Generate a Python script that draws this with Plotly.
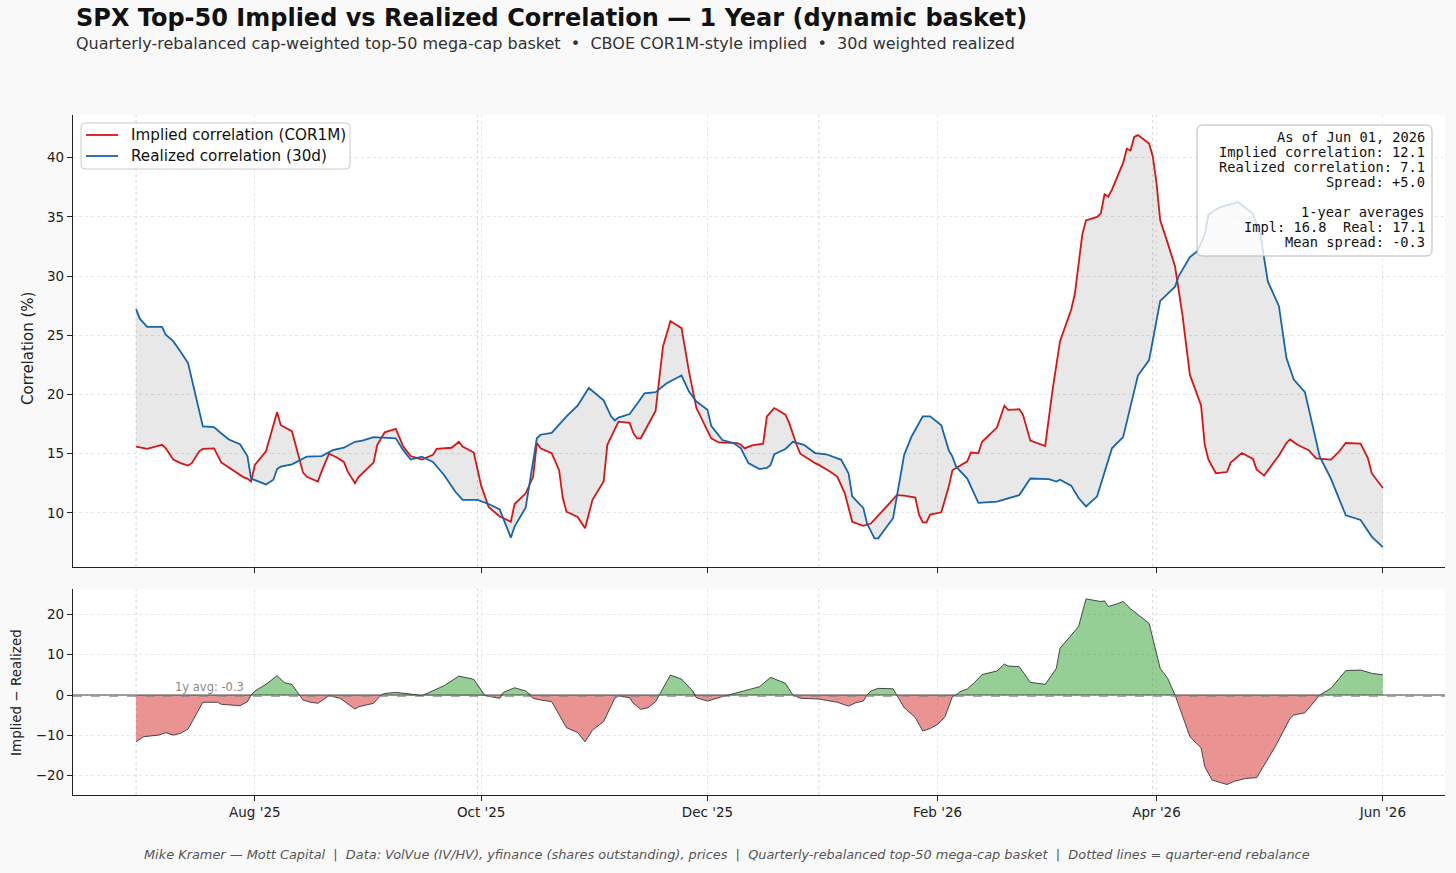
import numpy as np
import plotly.graph_objects as go

# ---------------- data ----------------
real_dates = [
    "2025-06-30", "2025-07-01", "2025-07-03", "2025-07-07", "2025-07-08", "2025-07-10", "2025-07-12",
    "2025-07-14", "2025-07-18", "2025-07-21", "2025-07-23", "2025-07-25", "2025-07-28", "2025-07-30",
    "2025-07-31", "2025-08-02", "2025-08-04", "2025-08-06", "2025-08-07", "2025-08-08", "2025-08-11",
    "2025-08-15", "2025-08-19", "2025-08-22", "2025-08-25", "2025-08-28", "2025-08-30", "2025-09-02",
    "2025-09-08", "2025-09-10", "2025-09-12", "2025-09-15", "2025-09-18", "2025-09-21", "2025-09-24",
    "2025-09-26", "2025-09-30", "2025-10-03", "2025-10-06", "2025-10-09", "2025-10-10", "2025-10-13",
    "2025-10-16", "2025-10-17", "2025-10-20", "2025-10-24", "2025-10-27", "2025-10-30", "2025-11-03",
    "2025-11-05", "2025-11-06", "2025-11-07", "2025-11-10", "2025-11-12", "2025-11-14", "2025-11-17",
    "2025-11-20", "2025-11-24", "2025-11-26", "2025-11-28", "2025-12-01", "2025-12-02", "2025-12-05",
    "2025-12-08", "2025-12-10", "2025-12-12", "2025-12-15", "2025-12-17", "2025-12-18", "2025-12-19",
    "2025-12-22", "2025-12-24", "2025-12-27", "2025-12-30", "2026-01-02", "2026-01-05", "2026-01-06",
    "2026-01-08", "2026-01-09", "2026-01-12", "2026-01-13", "2026-01-15", "2026-01-16", "2026-01-20",
    "2026-01-23", "2026-01-25", "2026-01-28", "2026-01-30", "2026-02-02", "2026-02-04", "2026-02-05",
    "2026-02-06", "2026-02-09", "2026-02-12", "2026-02-17", "2026-02-23", "2026-02-26", "2026-03-03",
    "2026-03-05", "2026-03-06", "2026-03-09", "2026-03-11", "2026-03-13", "2026-03-16", "2026-03-20",
    "2026-03-23", "2026-03-27", "2026-03-30", "2026-04-02", "2026-04-06", "2026-04-07", "2026-04-10",
    "2026-04-12", "2026-04-14", "2026-04-15", "2026-04-18", "2026-04-23", "2026-04-27", "2026-04-29",
    "2026-05-01", "2026-05-04", "2026-05-06", "2026-05-08", "2026-05-11", "2026-05-15", "2026-05-18",
    "2026-05-22", "2026-05-26", "2026-05-29", "2026-06-01",
]
realized = [
    27.2, 26.4, 25.7, 25.7, 25.05, 24.5, 23.6,
    22.65, 17.3, 17.25, 16.7, 16.2, 15.8, 14.8,
    12.9, 12.65, 12.4, 12.8, 13.7, 13.9, 14.1,
    14.75, 14.8, 15.3, 15.5, 16.0, 16.1, 16.4,
    16.3, 15.3, 14.5, 14.75, 14.3, 13.2, 11.8,
    11.1, 11.1, 10.75, 10.3, 7.9, 8.85, 10.45,
    16.3, 16.6, 16.75, 18.15, 19.05, 20.55, 19.5,
    18.15, 17.8, 18.05, 18.35, 19.2, 20.1, 20.2,
    20.95, 21.6, 20.25, 19.4, 18.7, 17.35, 16.15,
    15.9, 15.45, 14.2, 13.7, 13.8, 14.05, 14.95,
    15.4, 16.0, 15.75, 15.05, 14.95, 14.6, 14.5,
    13.35, 11.4, 10.4, 9.1, 7.85, 7.85, 9.55,
    14.9, 16.45, 18.15, 18.15, 17.4, 15.3, 14.75,
    13.9, 12.9, 10.85, 10.95, 11.5, 12.9, 12.85,
    12.65, 12.8, 12.3, 11.25, 10.55, 11.4, 15.45,
    16.4, 21.6, 22.9, 27.9, 29.1, 30.0, 31.6,
    32.1, 33.5, 35.2, 35.8, 36.25, 35.25, 33.5,
    29.55, 27.45, 23.1, 21.25, 20.2, 14.75, 12.9,
    9.8, 9.4, 8.0, 7.1,
]

impl_dates = [
    "2025-06-30", "2025-07-03", "2025-07-07", "2025-07-08", "2025-07-10", "2025-07-12", "2025-07-14",
    "2025-07-15", "2025-07-17", "2025-07-18", "2025-07-21", "2025-07-23", "2025-07-24", "2025-07-26",
    "2025-07-29", "2025-07-30", "2025-07-31", "2025-08-01", "2025-08-04", "2025-08-07", "2025-08-08",
    "2025-08-11", "2025-08-14", "2025-08-15", "2025-08-18", "2025-08-19", "2025-08-21", "2025-08-23",
    "2025-08-25", "2025-08-26", "2025-08-28", "2025-08-29", "2025-09-02", "2025-09-03", "2025-09-05",
    "2025-09-08", "2025-09-10", "2025-09-12", "2025-09-15", "2025-09-18", "2025-09-19", "2025-09-23",
    "2025-09-25", "2025-09-26", "2025-09-29", "2025-10-01", "2025-10-03", "2025-10-06", "2025-10-09",
    "2025-10-10", "2025-10-13", "2025-10-15", "2025-10-16", "2025-10-17", "2025-10-20", "2025-10-22",
    "2025-10-23", "2025-10-24", "2025-10-27", "2025-10-29", "2025-10-31", "2025-11-03", "2025-11-04",
    "2025-11-07", "2025-11-10", "2025-11-11", "2025-11-12", "2025-11-13", "2025-11-17", "2025-11-19",
    "2025-11-21", "2025-11-24", "2025-11-26", "2025-11-28", "2025-12-02", "2025-12-04", "2025-12-09",
    "2025-12-10", "2025-12-11", "2025-12-13", "2025-12-16", "2025-12-17", "2025-12-19", "2025-12-22",
    "2025-12-23", "2025-12-25", "2025-12-26", "2025-12-30", "2025-12-31", "2026-01-03", "2026-01-05",
    "2026-01-07", "2026-01-09", "2026-01-12", "2026-01-14", "2026-01-18", "2026-01-21", "2026-01-23",
    "2026-01-26", "2026-01-27", "2026-01-28", "2026-01-29", "2026-01-30", "2026-02-02", "2026-02-03",
    "2026-02-04", "2026-02-05", "2026-02-09", "2026-02-10", "2026-02-12", "2026-02-13", "2026-02-17",
    "2026-02-19", "2026-02-20", "2026-02-23", "2026-02-24", "2026-02-26", "2026-03-02", "2026-03-04",
    "2026-03-06", "2026-03-09", "2026-03-10", "2026-03-12", "2026-03-13", "2026-03-16", "2026-03-17",
    "2026-03-18", "2026-03-19", "2026-03-20", "2026-03-23", "2026-03-24", "2026-03-25", "2026-03-26",
    "2026-03-27", "2026-03-30", "2026-03-31", "2026-04-01", "2026-04-02", "2026-04-04", "2026-04-06",
    "2026-04-08", "2026-04-10", "2026-04-13", "2026-04-14", "2026-04-15", "2026-04-17", "2026-04-20",
    "2026-04-21", "2026-04-24", "2026-04-27", "2026-04-28", "2026-04-30", "2026-05-04", "2026-05-06",
    "2026-05-07", "2026-05-09", "2026-05-12", "2026-05-14", "2026-05-18", "2026-05-20", "2026-05-22",
    "2026-05-26", "2026-05-28", "2026-05-29", "2026-06-01",
]
implied = [
    15.6, 15.4, 15.75, 15.45, 14.5, 14.2, 14.0,
    14.2, 15.2, 15.4, 15.45, 14.25, 14.05, 13.6,
    13.0, 12.9, 12.65, 14.05, 15.2, 18.5, 17.4,
    16.9, 13.4, 13.05, 12.65, 13.5, 15.0, 14.7,
    14.3, 13.5, 12.5, 13.05, 14.25, 15.75, 16.8,
    17.1, 15.6, 14.8, 14.5, 14.9, 15.4, 15.5,
    16.0, 15.6, 15.1, 12.3, 10.5, 9.7, 9.25,
    10.75, 11.65, 13.05, 15.9, 15.45, 15.05, 13.6,
    11.25, 10.1, 9.65, 8.7, 11.1, 12.65, 15.75,
    17.7, 17.6, 16.75, 16.3, 16.3, 18.6, 24.05,
    26.2, 25.6, 21.95, 18.85, 16.3, 15.95, 15.9,
    15.75, 15.45, 15.7, 15.85, 18.15, 18.85, 18.3,
    17.6, 15.75, 15.0, 14.2, 14.05, 13.5, 13.05,
    11.65, 9.25, 8.9, 9.1, 10.45, 11.5, 11.45,
    11.3, 9.85, 9.2, 9.2, 9.85, 10.05, 11.1,
    12.2, 13.6, 14.35, 15.1, 15.05, 16.0, 17.2,
    19.05, 18.7, 18.75, 18.3, 16.1, 15.65, 20.4,
    24.5, 27.15, 28.5, 33.5, 34.7, 35.0, 35.3,
    36.9, 36.7, 37.3, 39.55, 40.75, 40.6, 41.75,
    41.9, 41.2, 40.1, 37.85, 34.7, 32.8, 30.8,
    26.7, 21.65, 19.1, 15.75, 14.5, 13.35, 13.45,
    14.25, 15.05, 14.55, 13.65, 13.15, 14.85, 15.9,
    16.2, 15.75, 15.3, 14.6, 14.5, 15.1, 15.9,
    15.85, 14.6, 13.35, 12.1,
]

spread_dates = [
    "2025-06-30", "2025-07-02", "2025-07-06", "2025-07-08", "2025-07-10", "2025-07-12", "2025-07-14",
    "2025-07-18", "2025-07-22", "2025-07-23", "2025-07-28", "2025-07-30", "2025-07-31", "2025-08-01",
    "2025-08-04", "2025-08-07", "2025-08-09", "2025-08-11", "2025-08-13", "2025-08-14", "2025-08-16",
    "2025-08-18", "2025-08-21", "2025-08-24", "2025-08-28", "2025-08-29", "2025-09-02", "2025-09-04",
    "2025-09-05", "2025-09-08", "2025-09-11", "2025-09-15", "2025-09-17", "2025-09-21", "2025-09-25",
    "2025-09-29", "2025-10-02", "2025-10-06", "2025-10-07", "2025-10-10", "2025-10-13", "2025-10-15",
    "2025-10-17", "2025-10-20", "2025-10-24", "2025-10-27", "2025-10-29", "2025-10-31", "2025-11-03",
    "2025-11-06", "2025-11-07", "2025-11-10", "2025-11-11", "2025-11-13", "2025-11-15", "2025-11-17",
    "2025-11-18", "2025-11-21", "2025-11-24", "2025-11-27", "2025-11-28", "2025-12-01", "2025-12-04",
    "2025-12-06", "2025-12-09", "2025-12-12", "2025-12-15", "2025-12-18", "2025-12-22", "2025-12-24",
    "2025-12-26", "2025-12-31", "2026-01-05", "2026-01-08", "2026-01-10", "2026-01-12", "2026-01-13",
    "2026-01-14", "2026-01-16", "2026-01-20", "2026-01-21", "2026-01-23", "2026-01-26", "2026-01-28",
    "2026-01-30", "2026-02-01", "2026-02-03", "2026-02-05", "2026-02-06", "2026-02-07", "2026-02-09",
    "2026-02-11", "2026-02-13", "2026-02-17", "2026-02-19", "2026-02-20", "2026-02-23", "2026-02-26",
    "2026-03-02", "2026-03-05", "2026-03-06", "2026-03-09", "2026-03-11", "2026-03-13", "2026-03-17",
    "2026-03-18", "2026-03-19", "2026-03-21", "2026-03-23", "2026-03-25", "2026-03-27", "2026-03-30",
    "2026-04-02", "2026-04-04", "2026-04-06", "2026-04-08", "2026-04-10", "2026-04-13", "2026-04-14",
    "2026-04-16", "2026-04-20", "2026-04-22", "2026-04-25", "2026-04-28", "2026-05-01", "2026-05-03",
    "2026-05-07", "2026-05-08", "2026-05-11", "2026-05-15", "2026-05-18", "2026-05-22", "2026-05-26",
    "2026-05-29", "2026-06-01",
]
spread = [
    -11.6, -10.35, -9.95, -9.35, -9.95, -9.5, -8.45,
    -1.8, -1.8, -2.3, -2.65, -1.65, 0.0, 1.0,
    2.65, 4.8, 3.05, 2.65, 0.0, -1.25, -1.8,
    -2.05, -0.15, -0.8, -3.5, -2.9, -2.05, 0.0,
    0.4, 0.65, 0.35, -0.15, 0.65, 2.3, 4.7,
    3.9, -0.15, -0.8, 0.65, 1.8, 1.0, -0.8,
    -1.25, -1.65, -8.1, -9.3, -11.6, -8.7, -6.6,
    -0.8, -0.25, -0.65, -2.05, -3.55, -3.15, -1.65,
    0.0, 4.95, 3.95, 1.0, -0.65, -1.5, -0.65,
    -0.15, 0.65, 1.25, 2.05, 4.4, 2.9, 0.0,
    -0.8, -1.0, -1.8, -2.75, -1.9, -1.5, 0.0,
    1.0, 1.65, 1.55, 0.0, -3.15, -5.6, -8.95,
    -8.3, -7.3, -5.4, -0.4, 0.0, 0.8, 1.5,
    3.15, 5.1, 5.95, 7.7, 7.2, 7.05, 3.15,
    2.65, 6.6, 11.6, 14.9, 17.0, 23.85, 23.2,
    23.35, 21.95, 22.5, 23.2, 21.4, 19.9, 17.8,
    6.6, 4.15, 0.0, -4.95, -10.35, -13.1, -17.8,
    -21.1, -22.2, -21.4, -20.7, -20.5, -15.75, -12.8,
    -5.8, -4.95, -4.4, 0.0, 1.65, 6.05, 6.2,
    5.4, 5.0,
]

month_ticks = ["2025-08-01", "2025-10-01", "2025-12-01", "2026-02-01", "2026-04-01", "2026-06-01"]
month_labels = ["Aug '25", "Oct '25", "Dec '25", "Feb '26", "Apr '26", "Jun '26"]
rebalance_dates = ["2025-06-30", "2025-09-30", "2025-12-31", "2026-03-31"]

top_ticks = [10, 15, 20, 25, 30, 35, 40]
bottom_ticks = [-20, -10, 0, 10, 20]
bottom_labels = ["\u221220", "\u221210", "0", "10", "20"]

series_names = ["Implied correlation (COR1M)", "Realized correlation (30d)"]

as_of = "Jun 01, 2026"
last_impl, last_real, last_spread = 12.1, 7.1, 5.0
avg_impl, avg_real, avg_spread = 16.8, 17.1, -0.3

# ---------------- styling / layout ----------------
W, H = 1456, 873
ML, MR, MT, MB = 73, 11, 115, 78
PW, PH = W - ML - MR, H - MT - MB


def px_x(px):
    return (px - ML) / PW


def px_y(py):
    return (H - MB - py) / PH


def rounded_box(x0, y0, x1, y1, r):
    """Rounded rectangle path in paper coordinates from pixel corners."""
    X0, X1 = px_x(x0), px_x(x1)
    Y0, Y1 = px_y(y0), px_y(y1)   # Y0 top, Y1 bottom
    rx, ry = r / PW, r / PH
    return (f"M {X0+rx},{Y0} L {X1-rx},{Y0} Q {X1},{Y0} {X1},{Y0-ry} "
            f"L {X1},{Y1+ry} Q {X1},{Y1} {X1-rx},{Y1} L {X0+rx},{Y1} "
            f"Q {X0},{Y1} {X0},{Y1+ry} L {X0},{Y0-ry} Q {X0},{Y0} {X0+rx},{Y0} Z")


RED = "#d61515"
BLUE = "#1565ad"
FONT = "DejaVu Sans"
AXC = "#222222"
GRID = "#e6e6e6"
NB = "\u00a0"

fig = go.Figure()

# top panel: fill between the two series
fig.add_trace(go.Scatter(x=real_dates, y=realized, mode="lines", line=dict(width=0),
                         showlegend=False, hoverinfo="skip", xaxis="x", yaxis="y"))
fig.add_trace(go.Scatter(x=impl_dates, y=implied, mode="lines", line=dict(width=0),
                         fill="tonexty", fillcolor="rgba(128,128,128,0.18)",
                         showlegend=False, hoverinfo="skip", xaxis="x", yaxis="y"))
fig.add_trace(go.Scatter(x=impl_dates, y=implied, mode="lines",
                         line=dict(color=RED, width=1.8), showlegend=False,
                         name=series_names[0], xaxis="x", yaxis="y"))
fig.add_trace(go.Scatter(x=real_dates, y=realized, mode="lines",
                         line=dict(color=BLUE, width=1.8), showlegend=False,
                         name=series_names[1], xaxis="x", yaxis="y"))

# bottom panel: spread
sp = np.array(spread)
pos = np.maximum(sp, 0)
neg = np.minimum(sp, 0)
fig.add_trace(go.Scatter(x=spread_dates, y=pos, mode="lines", line=dict(width=0),
                         fill="tozeroy", fillcolor="rgba(44,160,44,0.5)",
                         showlegend=False, hoverinfo="skip", xaxis="x2", yaxis="y2"))
fig.add_trace(go.Scatter(x=spread_dates, y=neg, mode="lines", line=dict(width=0),
                         fill="tozeroy", fillcolor="rgba(214,39,40,0.5)",
                         showlegend=False, hoverinfo="skip", xaxis="x2", yaxis="y2"))
fig.add_trace(go.Scatter(x=spread_dates, y=spread, mode="lines",
                         line=dict(color="#222222", width=0.8),
                         showlegend=False, xaxis="x2", yaxis="y2"))

xrange = ["2025-06-13", "2026-06-17 18:00"]
common_x = dict(type="date", range=xrange, tickvals=month_ticks, ticktext=month_labels,
                ticks="outside", ticklen=5, tickcolor=AXC, tickwidth=1,
                showline=True, linecolor=AXC, linewidth=1.3,
                showgrid=True, gridcolor=GRID, griddash="3px,3px", gridwidth=1,
                zeroline=False, tickfont=dict(size=13.5, color=AXC, family=FONT))
common_y = dict(ticks="outside", ticklen=5, tickcolor=AXC, tickwidth=1,
                showline=True, linecolor=AXC, linewidth=1.3,
                showgrid=True, gridcolor=GRID, griddash="3px,3px", gridwidth=1,
                zeroline=False, tickfont=dict(size=13.5, color=AXC, family=FONT))

shapes = []
for d in rebalance_dates:
    shapes.append(dict(type="line", xref="x", yref="y domain", x0=d, x1=d, y0=0, y1=1,
                       line=dict(color="#d4d4d4", width=1, dash="dot"), layer="below"))
    shapes.append(dict(type="line", xref="x2", yref="y2 domain", x0=d, x1=d, y0=0, y1=1,
                       line=dict(color="#d4d4d4", width=1, dash="dot"), layer="below"))
shapes.append(dict(type="line", xref="x2 domain", yref="y2", x0=0, x1=1, y0=0, y1=0,
                   line=dict(color="#444444", width=1)))
shapes.append(dict(type="line", xref="x2 domain", yref="y2", x0=0, x1=1,
                   y0=avg_spread, y1=avg_spread,
                   line=dict(color="#888888", width=1, dash="dash")))
# legend frame + swatches (drawn like the reference's rounded legend)
shapes.append(dict(type="path", xref="paper", yref="paper",
                   path=rounded_box(81, 123, 350, 169, 4),
                   fillcolor="rgba(255,255,255,0.8)", line=dict(color="#cccccc", width=1),
                   layer="above"))
for color, ypx in [(RED, 135), (BLUE, 156)]:
    shapes.append(dict(type="line", xref="paper", yref="paper",
                       x0=px_x(86), x1=px_x(118), y0=px_y(ypx), y1=px_y(ypx),
                       line=dict(color=color, width=1.8), layer="above"))
# info box frame (rounded, semi-transparent)
shapes.append(dict(type="path", xref="paper", yref="paper",
                   path=rounded_box(1197, 125, 1432, 256, 6),
                   fillcolor="rgba(255,255,255,0.8)", line=dict(color="#b8b8b8", width=1),
                   layer="above"))

info_lines = [
    (f"As of {as_of}", 137),
    (f"Implied correlation: {last_impl:.1f}", 152),
    (f"Realized correlation: {last_real:.1f}", 167),
    (f"Spread: {last_spread:+.1f}", 182),
    ("1-year averages", 212),
    (f"Impl: {avg_impl:.1f}  Real: {avg_real:.1f}", 227),
    (f"Mean spread: {avg_spread:.1f}", 242),
]

title = "SPX Top-50 Implied vs Realized Correlation \u2014 1 Year (dynamic basket)"
subtitle = (f"Quarterly-rebalanced cap-weighted top-50 mega-cap basket{NB}{NB}\u2022{NB}{NB}"
            f"CBOE COR1M-style implied{NB}{NB}\u2022{NB}{NB}30d weighted realized")
footer = (f"Mike Kramer \u2014 Mott Capital{NB}{NB}|{NB}{NB}Data: VolVue (IV/HV), yfinance (shares outstanding), prices"
          f"{NB}{NB}|{NB}{NB}Quarterly-rebalanced top-50 mega-cap basket{NB}{NB}|{NB}{NB}Dotted lines = quarter-end rebalance")

annotations = [
    dict(text=f"<b>{title}</b>", xref="paper", yref="paper", x=px_x(75), y=px_y(17.5),
         xanchor="left", yanchor="middle", showarrow=False, borderpad=0,
         font=dict(size=24, color="#111111", family=FONT)),
    dict(text=subtitle, xref="paper", yref="paper", x=px_x(75), y=px_y(43.5),
         xanchor="left", yanchor="middle", showarrow=False, borderpad=0,
         font=dict(size=16, color="#333333", family=FONT)),
    dict(text="Correlation (%)", textangle=-90, xref="paper", yref="paper",
         x=px_x(28), y=px_y(349), xanchor="center", yanchor="middle", showarrow=False,
         font=dict(size=15, color=AXC, family=FONT)),
    dict(text="Implied \u2212 Realized", textangle=-90, xref="paper", yref="paper",
         x=px_x(16), y=px_y(693), xanchor="center", yanchor="middle", showarrow=False,
         font=dict(size=13.5, color=AXC, family=FONT)),
    dict(text=f"1y avg: {avg_spread:.1f}", xref="x2", yref="y2", x="2025-07-10", y=avg_spread,
         xanchor="left", yanchor="bottom", showarrow=False,
         font=dict(size=11.5, color="#888888", family=FONT)),
    dict(text=f"<i>{footer}</i>", xref="paper", yref="paper", x=px_x(727), y=px_y(855),
         xanchor="center", yanchor="middle", showarrow=False,
         font=dict(size=12.9, color="#555555", family=FONT)),
]
for name, ypx in zip(series_names, [135, 156]):
    annotations.append(dict(text=name, xref="paper", yref="paper", x=px_x(130), y=px_y(ypx),
                            xanchor="left", yanchor="middle", showarrow=False, borderpad=0,
                            font=dict(size=15.2, color="#111111", family=FONT)))
for txt, ypx in info_lines:
    annotations.append(dict(text=txt.replace(" ", NB), xref="paper", yref="paper",
                            x=px_x(1426), y=px_y(ypx), xanchor="right", yanchor="middle",
                            showarrow=False, borderpad=0,
                            font=dict(size=13.7, color="#111111", family="DejaVu Sans Mono")))

fig.update_layout(
    width=W, height=H,
    margin=dict(l=ML, r=MR, t=MT, b=MB, pad=0),
    paper_bgcolor="#f9f9f9", plot_bgcolor="white",
    font=dict(family=FONT, color=AXC),
    showlegend=False,
    xaxis=dict(common_x, anchor="y", domain=[0, 1], showticklabels=False, matches="x2"),
    yaxis=dict(common_y, anchor="x", domain=[px_y(567), 1.0], range=[5.43, 43.6],
               tickvals=top_ticks),
    xaxis2=dict(common_x, anchor="y2", domain=[0, 1], showticklabels=True),
    yaxis2=dict(common_y, anchor="x2", domain=[0, px_y(589)], range=[-24.8, 26.3],
                tickvals=bottom_ticks, ticktext=bottom_labels),
    shapes=shapes,
    annotations=annotations,
    hovermode=False,
)

fig.write_html("out.html", config={"displayModeBar": False})
